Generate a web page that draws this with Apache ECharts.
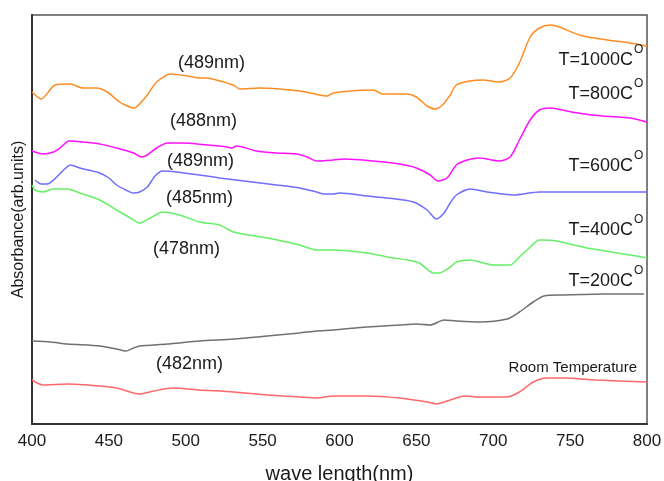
<!DOCTYPE html>
<html>
<head>
<meta charset="utf-8">
<script src="https://cdn.jsdelivr.net/npm/echarts@6/dist/echarts.min.js"></script>
<style>html,body{margin:0;padding:0;background:#fff}#c{width:664px;height:481px}</style>
</head>
<body>
<div id="c"></div>
<script>
// wavelengths (nm) and absorbance (arb. units)
var nm1000 = [400,406,415,425,433,442,449,457,462,466,468,475,481,490,501,509,514,520,531,535,548,561,574,581,592,596,607,622,628,644,650,657,662,667,672,676,685,693,704,711,717,724,730,737,743,756,774,789,800];
var v1000  = [3.32,3.25,3.39,3.40,3.36,3.36,3.32,3.22,3.18,3.16,3.17,3.29,3.42,3.50,3.48,3.46,3.46,3.44,3.39,3.35,3.36,3.35,3.33,3.31,3.28,3.31,3.33,3.34,3.30,3.30,3.27,3.18,3.15,3.19,3.29,3.39,3.43,3.44,3.42,3.46,3.61,3.87,3.96,3.99,3.97,3.89,3.84,3.81,3.78];

var nm800 = [400,407,414,419,424,433,444,455,466,471,475,481,488,498,514,527,530,533,546,559,572,579,585,596,603,622,639,650,659,664,670,676,683,691,704,711,717,724,730,737,745,755,771,789,800];
var v800  = [2.73,2.70,2.72,2.77,2.83,2.82,2.80,2.76,2.71,2.67,2.69,2.76,2.81,2.81,2.79,2.77,2.76,2.78,2.73,2.71,2.70,2.67,2.63,2.64,2.65,2.63,2.60,2.56,2.49,2.43,2.46,2.59,2.64,2.66,2.63,2.67,2.84,3.04,3.14,3.16,3.14,3.11,3.08,3.06,3.02];

var nm600 = [402,406,410,414,418,422,425,431,444,450,455,461,466,470,475,480,485,494,509,522,559,574,585,590,596,600,618,631,648,657,663,668,672,676,685,696,713,730,756,800];
var v600  = [2.44,2.40,2.40,2.44,2.50,2.56,2.59,2.56,2.51,2.46,2.39,2.34,2.31,2.32,2.37,2.48,2.53,2.52,2.49,2.46,2.39,2.36,2.32,2.30,2.30,2.31,2.28,2.26,2.22,2.14,2.05,2.11,2.21,2.29,2.35,2.32,2.29,2.32,2.32,2.32];

var nm400 = [400,402,407,414,423,431,444,455,464,470,477,485,496,509,522,531,553,574,585,596,618,631,644,652,661,665,672,676,685,700,711,717,724,730,741,761,789,800];
var v400  = [2.39,2.34,2.32,2.35,2.35,2.31,2.24,2.14,2.06,2.01,2.06,2.12,2.09,2.02,1.99,1.92,1.86,1.79,1.74,1.74,1.71,1.67,1.64,1.61,1.51,1.51,1.57,1.62,1.64,1.59,1.59,1.67,1.77,1.84,1.83,1.76,1.69,1.66];

var nm200 = [400,412,423,444,455,461,466,470,488,509,531,553,574,585,596,618,639,650,659,668,676,691,709,717,726,733,746,772,798];
var v200  = [0.83,0.82,0.80,0.78,0.75,0.73,0.76,0.78,0.80,0.83,0.85,0.88,0.91,0.93,0.94,0.97,0.99,1.00,0.99,1.04,1.03,1.02,1.05,1.12,1.22,1.28,1.29,1.30,1.30];

var nmRT = [400,407,423,444,455,470,479,492,509,531,553,574,585,596,618,639,657,663,672,681,691,709,717,726,735,746,767,800];
var vRT  = [0.44,0.39,0.40,0.38,0.36,0.30,0.33,0.36,0.34,0.32,0.29,0.27,0.26,0.28,0.28,0.26,0.22,0.20,0.24,0.28,0.27,0.27,0.32,0.42,0.46,0.46,0.44,0.42];

var seriesNames  = ['T=1000C','T=800C','T=600C','T=400C','T=200C','Room Temperature'];
var seriesColors = ['#ff8c22','#ff10ff','#6e6eff','#66f066','#707070','#ff6868'];
var peakLabels   = ['(489nm)','(488nm)','(489nm)','(485nm)','(478nm)','(482nm)'];
var xTicks = [400,450,500,550,600,650,700,750,800];

var allNm = [nm1000, nm800, nm600, nm400, nm200, nmRT];
var allV  = [v1000, v800, v600, v400, v200, vRT];

var FONT = '"Liberation Sans", Arial, sans-serif';

var series = allNm.map(function (xs, k) {
  return {
    name: seriesNames[k],
    type: 'line',
    symbol: 'none',
    smooth: 0.25,
    lineStyle: { color: seriesColors[k], width: 1.5 },
    data: xs.map(function (x, i) { return [x, allV[k][i]]; })
  };
});

function txt(s, x, y, size, align) {
  return { type: 'text', x: x, y: y, z: 100,
    style: { text: s, fill: '#1a1a1a', font: size + 'px ' + FONT,
      textAlign: align || 'left', textVerticalAlign: 'middle',
      align: align || 'left', verticalAlign: 'middle' } };
}

var graphics = [];
var peakPos = [[178,63],[170,121],[167,161],[166,198],[153,249],[156,364]];
peakLabels.forEach(function (s, i) { graphics.push(txt(s, peakPos[i][0], peakPos[i][1], 18, 'left')); });
var tPos = [60, 94, 166, 230, 281];
for (var i = 0; i < 5; i++) {
  graphics.push(txt(seriesNames[i], 633, tPos[i], 18, 'right'));
  graphics.push(txt('O', 634, tPos[i] - 10, 12, 'left'));
}
graphics.push(txt(seriesNames[5], 637, 368, 15, 'right'));

var chart = echarts.init(document.getElementById('c'), null, { renderer: 'canvas' });
chart.setOption({
  animation: false,
  backgroundColor: '#fff',
  textStyle: { fontFamily: FONT },
  grid: { left: 32, right: 17, top: 15, bottom: 57, containLabel: false, outerBoundsMode: 'none',
    show: true, borderColor: '#555', borderWidth: 1.5 },
  xAxis: {
    type: 'value', min: 400, max: 800, interval: 50,
    name: 'wave length(nm)', nameLocation: 'middle', nameGap: 40,
    nameTextStyle: { fontSize: 20, color: '#1a1a1a', fontFamily: FONT },
    axisLine: { show: true, lineStyle: { color: '#333', width: 2 } },
    axisTick: { show: false },
    splitLine: { show: false },
    axisLabel: { fontSize: 17, color: '#1a1a1a', margin: 9, fontFamily: FONT,
      customValues: xTicks }
  },
  yAxis: {
    type: 'value', min: 0, max: 4.09,
    name: 'Absorbance(arb.units)', nameLocation: 'middle', nameGap: 5, nameRotate: 90,
    nameTextStyle: { fontSize: 16, color: '#1a1a1a', fontFamily: FONT },
    axisLine: { show: true, lineStyle: { color: '#333', width: 2 } },
    axisTick: { show: false },
    splitLine: { show: false },
    axisLabel: { show: false }
  },
  series: series,
  graphic: graphics
});
</script>
</body>
</html>
